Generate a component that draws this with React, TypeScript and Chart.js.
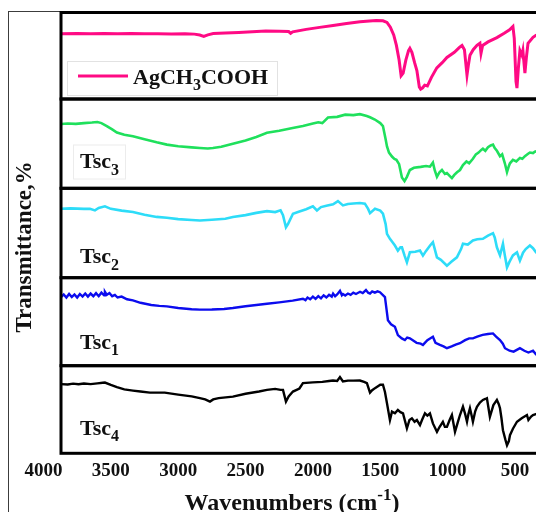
import React, { useEffect, useRef } from "react";
import { Chart, registerables } from "chart.js";

Chart.register(...registerables);

// ---------- axis ----------
const xFrom = 3870; // left edge of the plot (cm-1)
const xTo = 314; // right edge of the plot (cm-1)
const xTickValues = [4000, 3500, 3000, 2500, 2000, 1500, 1000, 500];
const xTickLabels = ["4000", "3500", "3000", "2500", "2000", "1500", "1000", "500"];

// ---------- AgCH3COOH (pink) ----------
const agWn = [3870,3750,3650,3550,3450,3350,3250,3150,3050,2950, 2880,2840,2810,2780,2740,2650,2550,2450,2350,2250, 2180,2165,2150,2050,1950,1850,1750,1650,1580,1530, 1480,1450,1425,1400,1380,1360,1345,1330,1310,1290, 1280,1265,1245,1228,1210,1200,1185,1170,1150,1120, 1080,1040,1005,950,910,893,875,856,845,834, 810,782,760,752,740,700,634,580,540,515, 505,492,485,475,463,448,441,426,415,403, 366,344,314];
const agT = [75.5,75.8,75.3,75.6,75.4,75.6,75.3,75.5,75.2,75.4, 75.0,74.0,72.4,74.2,75.6,76.2,77.0,77.8,78.6,78.4, 78.0,76.0,77.6,80.5,82.8,85.0,87.2,89.2,90.2,90.8, 90.4,88.5,83,74,62,45,27,30,45,56, 58.6,54,42,33,14,11.5,13,16,15,25, 36,42,48,54,60,62,57,27.6,40,50.6, 57,62,64.4,52.9,62,66,71,76,80,83.9, 70,20,12.6,35,56,50.6,56,30,48,64.4, 71.3,73.6,75];

// ---------- Tsc3 (green) ----------
const tsc3Wn = [3870,3820,3760,3700,3640,3600,3570,3530,3490,3455, 3400,3336,3250,3160,3084,3000,2900,2839,2780,2742, 2680,2594,2500,2420,2341,2250,2150,2074,2000,1960, 1930,1888,1820,1760,1700,1651,1600,1576,1540,1500, 1480,1460,1450,1435,1413,1395,1380,1360,1339,1320, 1302,1280,1250,1200,1160,1131,1109,1095,1079,1060, 1042,1020,1005,985,968,950,930,908,886,860, 840,812,790,770,750,738,720,700,680,663, 650,634,611,595,575,559,545,537,515,490, 463,445,426,400,389,366,352,330,314];
const tsc3T = [72.0,72.6,72.2,73.0,73.6,74.2,73.0,69.7,66,62.5, 60,58.3,55,51.5,48.9,47,45.8,45.1,44.6,45.1, 46.5,50,53.5,57.5,62.2,64.5,67.5,69.7,72.5,74, 73,79.2,80,82.5,82,83,81,79.5,77,73, 69.7,55,46.9,40,35.6,33,32,27,12,8, 12.8,20.5,23,24,25,24.2,28.8,20,12.8,18, 20.5,16,17,14,11.4,15,18,20.5,26,30, 28,33,38,40,43,44.3,42,46,48,48.9, 45,42,36,38,28,18.2,25,28,31.8,30, 34,33,36,39,40,39.5,41,42,42];

// ---------- Tsc2 (cyan) ----------
const tsc2Wn = [3870,3800,3700,3655,3618,3590,3544,3500,3420,3336, 3250,3160,3084,3000,2900,2839,2750,2650,2594,2500, 2420,2341,2280,2240,2222,2200,2185,2148,2100,2050, 2000,1970,1940,1900,1850,1814,1777,1740,1700,1651, 1614,1590,1576,1539,1500,1480,1460,1450,1428,1410, 1391,1369,1350,1339,1320,1302,1280,1240,1205,1183, 1160,1130,1109,1079,1050,1005,970,931,900,886, 850,812,780,738,700,663,650,634,611,589, 575,559,540,515,485,463,440,420,389,366, 344,314];
const tsc2T = [77.2,77.5,77.0,77.2,75.3,78,79.8,77,75,73.4, 70.5,68,67.1,65.5,64.5,64,64.8,66,67.8,70, 72.5,74.5,73.4,75.3,70,56.5,60,71.6,74,76.5, 79.8,75.3,79,80.5,82,85.7,80.9,82.5,83,83.5, 82.8,77,72.2,77.2,75,71.6,60,49.1,43.5,40, 36,30.3,34,34,25,17.2,28.4,29,30.3,24.7, 30,36,39.7,22.8,20,13.5,18,22.8,32,37.9, 37,41.6,43,43.5,47,49.8,45,34,25,37.9, 25,11.6,18,25,28.4,19.1,28,32,36,33, 28.4,30];

// ---------- Tsc1 (blue) ----------
const tsc1Wn = [3870,3850,3830,3810,3790,3770,3750,3730,3710,3690, 3670,3650,3630,3610,3590,3570,3550,3544,3530,3510, 3490,3470,3450,3420,3380,3336,3280,3200,3140,3084, 3000,2900,2839,2750,2660,2594,2500,2420,2341,2250, 2150,2074,2055,2040,2020,2000,1980,1960,1940,1920, 1900,1880,1860,1850,1835,1820,1799,1785,1777,1760, 1740,1720,1700,1680,1650,1630,1606,1590,1576,1560, 1540,1520,1502,1465,1443,1420,1391,1369,1340,1317, 1300,1280,1250,1230,1200,1183,1150,1130,1109,1090, 1057,1030,1005,970,940,908,870,840,812,780, 740,700,663,640,611,590,574,540,510,463, 430,400,366,344,314];
const tsc1T = [78,81,77.5,81.5,78,81,77.5,81.5,78.5,82, 78.5,82,79,82.5,79,83,80,84,80.5,82.5, 79,80.5,77.5,78.5,75.5,74.2,71.5,69,68,67.4, 65.5,64.2,63.7,63.8,64.5,65.5,67.5,69,70.4,72, 74,76.1,74.5,77.5,75.5,78.5,76,79,76.5,80, 77.5,80.5,78.5,82,79,81,85,80,81.5,79.8, 82,80.5,83,81.5,84,82.5,86,83,82,84.5, 83,84.5,83.5,77.9,51.7,47,44.2,34.8,31,29.2, 32,31.1,28,26,25,23.6,29,31,32.9,26, 23.6,22,19.9,22,24,25.5,29,31,31.1,33, 35,36,36.7,33,29.2,25,19.9,17,16,19.9, 17,15,17,13,12.4];

// ---------- Tsc4 (black) ----------
const tsc4Wn = [3870,3820,3780,3740,3700,3650,3600,3560,3544,3500, 3455,3400,3336,3280,3210,3100,3000,2900,2839,2800, 2764,2740,2700,2594,2500,2400,2341,2280,2240,2222, 2200,2180,2148,2100,2074,2000,1930,1880,1851,1820, 1799,1777,1740,1700,1651,1620,1599,1576,1560,1539, 1500,1480,1465,1450,1428,1413,1391,1369,1350,1331, 1302,1283,1265,1245,1228,1205,1190,1168,1150,1131, 1109,1079,1060,1035,1020,1005,985,968,945,925, 908,886,870,856,845,834,820,812,795,782, 760,738,720,708,686,660,634,620,611,600, 589,570,559,545,537,515,485,450,411,400, 380,366,340,314];
const tsc4T = [79,78.5,79.5,78.8,79.6,79,79.8,80.5,80.8,78, 75.5,73,71.6,70.5,69.3,69.3,67,65,62.9,61.5, 59,61.5,63,64.7,68,70.5,72.4,73.5,72.4,72.4, 59,65,70.5,74,80.1,81,81.5,82.5,83.1,82.5, 87,82,83,83,83.1,81.5,80.1,69.3,72,74.4, 78.2,78.2,70,57.1,37.9,47.5,45.6,49.4,47,45.6, 28.4,38,39.9,36,37.9,32.2,38,45.6,43,45.6, 34.1,24.5,30,36,30.2,30.2,38,43.7,24.5,35, 43.7,53.2,45,36,45,51.4,42,36,48,53.2, 58,60.9,62,62.9,41.7,55,60.9,56,51.4,40, 26.4,15,9.2,14,20.7,28,36,40,43.7,38, 42,43.7,45,45];

// ---------- texts ----------
type Seg = { t: string; k?: "sub" | "sup" };
const legendLabel: Seg[] = [{ t: "AgCH" }, { t: "3", k: "sub" }, { t: "COOH" }];
const panelLabels: Seg[][] = [
  [],
  [{ t: "Tsc" }, { t: "3", k: "sub" }],
  [{ t: "Tsc" }, { t: "2", k: "sub" }],
  [{ t: "Tsc" }, { t: "1", k: "sub" }],
  [{ t: "Tsc" }, { t: "4", k: "sub" }],
];
const xTitle: Seg[] = [{ t: "Wavenumbers (cm" }, { t: "-1", k: "sup" }, { t: ")" }];
const yTitle = "Transmittance,%";

// ---------- panels (top to bottom) ----------
const panelIds = ["pAg", "pTsc3", "pTsc2", "pTsc1", "pTsc4"];
const panelWn = [agWn, tsc3Wn, tsc2Wn, tsc1Wn, tsc4Wn];
const panelT = [agT, tsc3T, tsc2T, tsc1T, tsc4T];
const panelNames = ["AgCH3COOH", "Tsc3", "Tsc2", "Tsc1", "Tsc4"];
const panelColors = ["#ff0a84", "#1fe05c", "#2ddcf8", "#0c0cee", "#000000"];
const panelLineWidths = [3, 2.6, 2.6, 2.4, 2.4];
const panelHeights = [86.5, 89.3, 89.4, 88, 87.6];
const labelBaselineOffsets = [0, 69, 75, 71, 69];

const SERIF = '"Liberation Serif", "Times New Roman", serif';

function segFont(size: number, k?: string) {
  return `bold ${k ? Math.round(size * 0.72) : size}px ${SERIF}`;
}
function drawRich(ctx: CanvasRenderingContext2D, segs: Seg[], x: number, y: number, size: number, align: "left" | "center") {
  let w = 0;
  segs.forEach((s) => {
    ctx.font = segFont(size, s.k);
    w += ctx.measureText(s.t).width;
  });
  let cx = align === "center" ? x - w / 2 : x;
  ctx.textAlign = "left";
  ctx.textBaseline = "alphabetic";
  segs.forEach((s) => {
    ctx.font = segFont(size, s.k);
    const dy = s.k === "sub" ? size * 0.3 : s.k === "sup" ? -size * 0.42 : 0;
    ctx.fillText(s.t, cx, y + dy);
    cx += ctx.measureText(s.t).width;
  });
}

const decorPlugin = {
  id: "decor",
  afterDatasetsDraw(chart: any) {
    const { ctx, chartArea: a, scales } = chart;
    ctx.save();
    // outer thin frame
    ctx.strokeStyle = "#3c3c3c";
    ctx.lineWidth = 1;
    ctx.strokeRect(8.5, 11.5, chart.width, chart.height);
    // panel frames
    ctx.strokeStyle = "#000";
    ctx.lineWidth = 3;
    panelIds.forEach((id) => {
      const s = scales[id];
      ctx.strokeRect(a.left, s.top, a.right - a.left, s.bottom - s.top);
    });
    // legend in first panel
    const top0 = scales[panelIds[0]].top;
    ctx.strokeStyle = "#e2e2e2";
    ctx.lineWidth = 1;
    ctx.strokeRect(a.left + 6.5, top0 + 49, 210, 34);
    ctx.strokeStyle = panelColors[0];
    ctx.lineWidth = 3;
    ctx.beginPath();
    ctx.moveTo(a.left + 17, top0 + 63.5);
    ctx.lineTo(a.left + 67, top0 + 63.5);
    ctx.stroke();
    ctx.fillStyle = "#111";
    drawRich(ctx, legendLabel, a.left + 72, top0 + 71, 22, "left");
    // faint box around Tsc3
    const top1 = scales[panelIds[1]].top;
    ctx.strokeStyle = "#ececec";
    ctx.lineWidth = 1;
    ctx.strokeRect(a.left + 12.5, top1 + 46, 52, 34);
    // panel labels
    ctx.fillStyle = "#111";
    for (let i = 1; i < panelIds.length; i++) {
      const s = scales[panelIds[i]];
      drawRich(ctx, panelLabels[i], a.left + 19, s.top + labelBaselineOffsets[i], 22, "left");
    }
    // x tick labels
    const xs = scales.x;
    ctx.font = `bold 19px ${SERIF}`;
    ctx.textAlign = "center";
    ctx.textBaseline = "alphabetic";
    xTickValues.forEach((v, i) => {
      ctx.fillText(xTickLabels[i], xs.getPixelForValue(v), a.bottom + 22.5);
    });
    // x title
    drawRich(ctx, xTitle, 292, a.bottom + 57, 24, "center");
    // y title
    ctx.save();
    ctx.translate(31, (a.top + a.bottom) / 2 + 14);
    ctx.rotate(-Math.PI / 2);
    ctx.font = `bold 23px ${SERIF}`;
    ctx.textAlign = "center";
    ctx.textBaseline = "alphabetic";
    ctx.fillText(yTitle, 0, 0);
    ctx.restore();
    ctx.restore();
  },
};

export default function App() {
  const ref = useRef<HTMLCanvasElement>(null);
  useEffect(() => {
    const scales: any = {
      x: { type: "linear", reverse: true, min: xTo, max: xFrom, display: false },
    };
    panelIds.forEach((id, i) => {
      scales[id] = {
        type: "linear",
        position: "left",
        stack: "panels",
        stackWeight: panelHeights[i],
        weight: panelIds.length - i,
        min: 0,
        max: 100,
        display: false,
      };
    });
    const datasets = panelIds.map((id, i) => ({
      label: panelNames[i],
      data: panelWn[i].map((w, j) => ({ x: w, y: panelT[i][j] })),
      borderColor: panelColors[i],
      borderWidth: panelLineWidths[i],
      pointRadius: 0,
      tension: 0,
      fill: false,
      xAxisID: "x",
      yAxisID: id,
    }));
    const chart = new Chart(ref.current as HTMLCanvasElement, {
      type: "line",
      data: { datasets },
      options: {
        responsive: false,
        devicePixelRatio: 1,
        animation: false,
        layout: { padding: { left: 61, top: 12.5, right: 20, bottom: 66.7 } },
        scales,
        plugins: { legend: { display: false }, tooltip: { enabled: false } },
      },
      plugins: [decorPlugin],
    } as any);
    return () => chart.destroy();
  }, []);
  return (
    <div style={{ position: "absolute", left: 0, top: 0, width: 536, height: 512, overflow: "hidden", background: "#fff" }}>
      <canvas ref={ref} width={560} height={520} style={{ display: "block" }} />
    </div>
  );
}
